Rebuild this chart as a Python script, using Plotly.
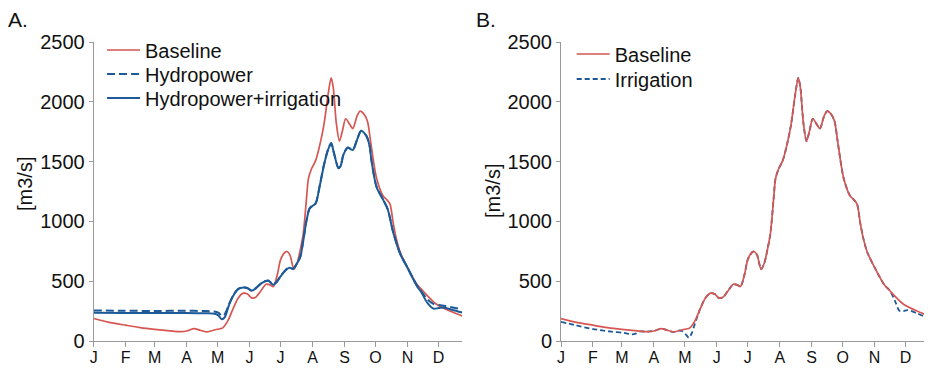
import plotly.graph_objects as go
from plotly.subplots import make_subplots

# ---------------- data (day of year, m3/s) ----------------
month_ticks = [1, 32, 60, 91, 121, 152, 182, 213, 244, 274, 305, 335]
month_labels = ["J", "F", "M", "A", "M", "J", "J", "A", "S", "O", "N", "D"]

days_baseline = [1, 15, 32, 46, 60, 75, 85, 92, 98, 104, 110, 116, 121, 126, 131, 136,
                 141, 146, 150, 154, 158, 163, 168, 172, 175, 179, 182, 186, 188, 191,
                 195, 198, 201, 204, 207, 209, 212, 216, 220, 224, 228, 231, 233, 236,
                 239, 242, 245, 249, 252, 256, 259, 262, 266, 269, 271, 275, 281, 285,
                 288, 291, 294, 298, 305, 314, 320, 326, 333, 346, 358]
baseline = [188, 158, 132, 112, 97, 84, 78, 86, 104, 90, 76, 88, 98, 110, 170, 270,
            360, 400, 392, 360, 366, 420, 474, 468, 455, 560, 680, 740, 748, 720,
            600, 650, 760, 900, 1180, 1360, 1440, 1510, 1640, 1810, 2060, 2200, 2120, 1820,
            1672, 1760, 1858, 1810, 1776, 1880, 1922, 1905, 1842, 1680, 1560, 1360, 1216, 1180,
            1145, 990, 860, 740, 615, 475, 418, 362, 307, 250, 209]

days_hydro_irr = [1, 30, 60, 90, 110, 119, 122, 125, 128, 132, 136, 141, 146, 150, 154,
                  158, 164, 170, 175, 178, 182, 188, 191, 194, 198, 201, 204, 207, 210,
                  213, 216, 220, 224, 228, 231, 234, 238, 240, 243, 247, 252, 256, 260,
                  265, 268, 270, 275, 282, 286, 291, 298, 305, 314, 318, 324, 330, 335,
                  340, 348, 358]
hydro_irr = [236, 235, 234, 235, 232, 226, 212, 182, 200, 300, 377, 434, 447, 440, 420,
             440, 485, 503, 470, 490, 540, 600, 612, 602, 650, 700, 840, 1000, 1105,
             1130, 1150, 1300, 1470, 1600, 1652, 1560, 1445, 1460, 1560, 1615, 1598, 1680, 1755,
             1715, 1640, 1510, 1286, 1170, 1095, 910, 725, 610, 461, 412, 321, 271, 275,
             280, 262, 238]

days_hydro = [1, 30, 60, 90, 110, 119, 122, 125, 128, 132, 136, 141, 146, 150, 154,
              158, 164, 170, 175, 178, 182, 188, 191, 194, 198, 201, 204, 207, 210,
              213, 216, 220, 224, 228, 231, 234, 238, 240, 243, 247, 252, 256, 260,
              265, 268, 270, 275, 282, 286, 291, 298, 305, 314, 318, 324, 330, 340, 358]
hydropower = [255, 253, 251, 253, 250, 245, 235, 210, 225, 306, 381, 437, 450, 443, 424,
              443, 488, 506, 473, 493, 543, 603, 614, 604, 653, 703, 843, 1003, 1108,
              1133, 1153, 1303, 1473, 1603, 1655, 1563, 1448, 1463, 1563, 1618, 1601, 1683, 1758,
              1718, 1643, 1513, 1289, 1173, 1098, 913, 728, 612, 465, 420, 350, 310, 294, 266]

days_irrigation = [1, 15, 32, 50, 62, 70, 74, 78, 85, 92, 98, 104, 110, 116, 119, 122, 125,
                   128, 131, 136, 141, 146, 150, 154, 158, 163, 168, 172, 175, 179, 182, 186,
                   188, 191, 195, 198, 201, 204, 207, 209, 212, 216, 220, 224, 228, 231, 233,
                   236, 239, 242, 245, 249, 252, 256, 259, 262, 266, 269, 271, 275, 281, 285,
                   288, 291, 294, 298, 305, 314, 320, 325, 329, 333, 337, 346, 358]
irrigation = [160, 132, 100, 78, 68, 56, 64, 80, 78, 86, 104, 90, 76, 88, 80, 55, 28,
              70, 150, 270, 360, 400, 392, 360, 366, 420, 474, 468, 455, 560, 680, 740,
              748, 720, 600, 650, 760, 900, 1180, 1360, 1440, 1510, 1640, 1810, 2060, 2200, 2120,
              1820, 1672, 1760, 1858, 1810, 1776, 1880, 1922, 1905, 1842, 1680, 1560, 1360, 1216, 1180,
              1145, 990, 860, 740, 615, 475, 418, 330, 252, 250, 258, 232, 185]

y_ticks = [0, 500, 1000, 1500, 2000, 2500]
y_title = "[m3/s]"

# ---------------- styles ----------------
RED = "#d65652"
BLUE = "#1d5a97"
AXIS = "#9a9a9a"
TXT = "#111111"
FONT = "Liberation Sans, Arial, sans-serif"

# page is offset by the 8px body margin; work in figure pixels
W, H = 924, 360
OFF = 8


def px(x):
    return (x - OFF) / W


def py(y):
    return (H - (y - OFF)) / H


fig = make_subplots(rows=1, cols=2)

spl = dict(shape="spline", smoothing=0.8)
fig.add_trace(go.Scatter(x=days_baseline, y=baseline, name="Baseline", mode="lines",
                         line=dict(color=RED, width=1.7, **spl), legend="legend"), row=1, col=1)
fig.add_trace(go.Scatter(x=days_hydro, y=hydropower, name="Hydropower", mode="lines",
                         line=dict(color=BLUE, width=2, dash="8px,4px", **spl),
                         legend="legend2"), row=1, col=1)
fig.add_trace(go.Scatter(x=days_hydro_irr, y=hydro_irr, name="Hydropower+irrigation", mode="lines",
                         line=dict(color=BLUE, width=2, **spl), legend="legend3"), row=1, col=1)

fig.add_trace(go.Scatter(x=days_irrigation, y=irrigation, name="Irrigation", mode="lines",
                         line=dict(color=BLUE, width=1.8, dash="5px,3px", **spl),
                         legend="legend5"), row=1, col=2)
fig.add_trace(go.Scatter(x=days_baseline, y=baseline, name="Baseline", mode="lines",
                         line=dict(color=RED, width=1.7, **spl), legend="legend4"), row=1, col=2)

xdomA = [px(93.7), px(462.3)]
xdomB = [px(561.0), px(929.3)]
ydom = [py(341), py(42)]

common_x = dict(range=[1, 358], tickmode="array", tickvals=month_ticks, ticktext=month_labels,
                showgrid=False, zeroline=False, showline=True, linecolor=AXIS, linewidth=1,
                ticks="outside", ticklen=5, tickcolor=AXIS, tickwidth=1, ticklabelstandoff=-3,
                tickfont=dict(family=FONT, size=16, color=TXT), automargin=False)
common_y = dict(range=[0, 2500], tickmode="array", tickvals=y_ticks,
                showgrid=False, zeroline=False, showline=True, linecolor=AXIS, linewidth=1,
                ticks="outside", ticklen=4, tickcolor=AXIS, tickwidth=1,
                tickfont=dict(family=FONT, size=20, color=TXT), automargin=False)


def leg(xp, yp):
    return dict(x=px(xp), y=py(yp), xanchor="left", yanchor="middle",
                bgcolor="rgba(0,0,0,0)", font=dict(family=FONT, size=20, color=TXT),
                itemwidth=33)


def label(text, xp, yp, size=21, angle=0):
    return dict(text=text, x=px(xp), y=py(yp), xref="paper", yref="paper",
                xanchor="left" if angle == 0 else "center", yanchor="middle",
                showarrow=False, textangle=angle,
                font=dict(family=FONT, size=size, color=TXT))


fig.update_layout(
    width=W, height=H,
    margin=dict(l=0, r=0, t=0, b=0),
    paper_bgcolor="white", plot_bgcolor="white",
    font=dict(family=FONT, size=20, color=TXT),
    xaxis=dict(domain=xdomA, **common_x),
    xaxis2=dict(domain=xdomB, **common_x),
    yaxis=dict(domain=ydom, **common_y),
    yaxis2=dict(domain=ydom, **common_y),
    legend=leg(102, 50),
    legend2=leg(102, 74),
    legend3=leg(102, 98),
    legend4=leg(571.7, 54),
    legend5=leg(571.7, 79),
    showlegend=True,
    annotations=[
        label("A.", 5.5, 20),
        label("B.", 473.5, 20),
        label(y_title, 25, 184, size=20, angle=-90),
        label(y_title, 493, 191, size=20, angle=-90),
    ],
)

fig.write_html("out.html")
